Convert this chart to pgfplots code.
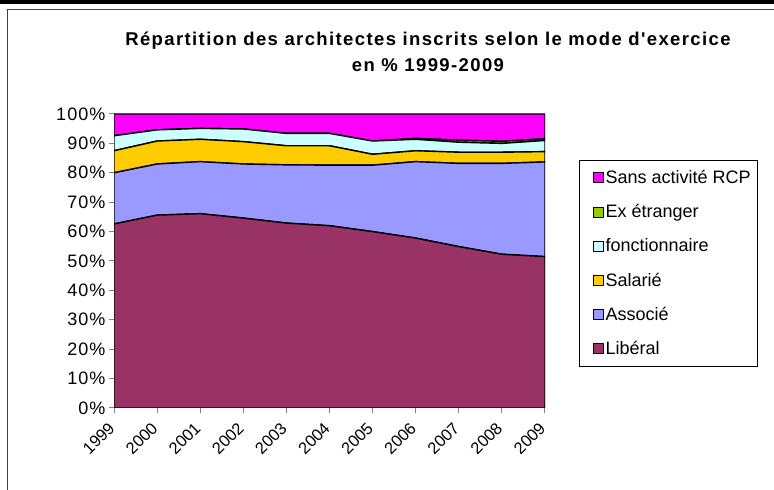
\documentclass[border=0pt]{standalone}
\usepackage{fontspec}
\setmainfont{Liberation Sans}
\newfontfamily\titlefont[LetterSpace=7.5]{Liberation Sans}
\newfontfamily\tickfont[LetterSpace=6]{Liberation Sans}
\usepackage{pgfplots}
\pgfplotsset{compat=1.18}
\usepackage{pgfplotstable}

\definecolor{liberal}{HTML}{993366}
\definecolor{associe}{HTML}{9999FF}
\definecolor{salarie}{HTML}{FFCC00}
\definecolor{fonction}{HTML}{CCFFFF}
\definecolor{etranger}{HTML}{99CC00}
\definecolor{sansact}{HTML}{FF00FF}
\definecolor{framegray}{HTML}{404040}

% parts in % of all registered architects
\pgfplotstableread{
year lib  assoc sal fonc ex  sans
1999 62.6 17.4  7.5 5.1  0.0 7.4
2000 65.6 17.4  7.8 3.8  0.0 5.4
2001 66.1 17.7  7.6 3.7  0.0 4.9
2002 64.6 18.4  7.6 4.3  0.0 5.1
2003 62.9 19.8  6.5 4.2  0.0 6.6
2004 62.0 20.6  6.6 4.2  0.0 6.6
2005 60.0 22.6  3.7 4.5  0.0 9.2
2006 57.8 26.0  3.7 3.9  0.3 8.3
2007 54.9 28.3  3.8 3.4  0.7 8.9
2008 52.3 30.9  3.8 3.0  0.7 9.3
2009 51.5 32.2  3.5 3.8  0.6 8.4
}\archi

\begin{document}
\begin{tikzpicture}
\useasboundingbox (0pt,0pt) rectangle (774pt,490pt);
\fill[white] (0pt,0pt) rectangle (774pt,490pt);
% chart frame, cut by the picture edges
\draw[black, line width=4pt] (0pt,488pt) -- (774pt,488pt);
\draw[framegray, line width=1pt] (7pt,-2pt) -- (7pt,480pt) -- (776pt,480pt);

\node[font=\titlefont\bfseries\fontsize{18.5}{26}\selectfont, align=center]
  at (428pt,438pt) {Répartition des architectes inscrits selon le mode d\char"27 exercice\\en \% 1999-2009};

\begin{axis}[
  at={(114pt,82pt)}, anchor=south west,
  scale only axis,
  width=431pt, height=294pt,
  xmin=1999, xmax=2009,
  ymin=0, ymax=100,
  stack plots=y,
  axis x line*=bottom,
  axis y line*=left,
  axis line style={gray, line width=1pt, -},
  tick align=outside,
  major tick length=5pt,
  tick style={gray, line width=1pt},
  xtick={1999,...,2009},
  ytick={0,10,...,100},
  yticklabel={\pgfmathprintnumber{\tick}\%},
  /pgf/number format/1000 sep={},
  /pgf/number format/assume math mode=true,
  tick label style={font=\tickfont\fontsize{18}{20}\selectfont},
  xticklabel shift=10pt,
  xticklabel style={rotate=45, anchor=east, font=\fontsize{16.5}{20}\selectfont},
  every axis plot/.append style={draw=black, line width=1.4pt, line join=round},
  reverse legend,
  legend style={at={(1.079,0.8435)}, anchor=north west, draw=black, line width=0.8pt,
    font=\fontsize{18}{20}\selectfont, row sep=15.5pt, inner xsep=5pt, inner ysep=8pt,
    cells={anchor=west}},
  legend image code/.code={\path (-8pt,0pt);
    \draw[#1, draw=black, line width=0.8pt] (0pt,-5pt) rectangle (10pt,5pt);},
]
\addplot[fill=liberal]  table[x=year, y=lib]   {\archi} \closedcycle;
\addlegendentry{Libéral}
\addplot[fill=associe]  table[x=year, y=assoc] {\archi} \closedcycle;
\addlegendentry{Associé}
\addplot[fill=salarie]  table[x=year, y=sal]   {\archi} \closedcycle;
\addlegendentry{Salarié}
\addplot[fill=fonction] table[x=year, y=fonc]  {\archi} \closedcycle;
\addlegendentry{fonctionnaire}
\addplot[fill=etranger] table[x=year, y=ex]    {\archi} \closedcycle;
\addlegendentry{Ex étranger}
\addplot[fill=sansact]  table[x=year, y=sans]  {\archi} \closedcycle;
\addlegendentry{Sans activité RCP}
\end{axis}
\end{tikzpicture}
\end{document}
